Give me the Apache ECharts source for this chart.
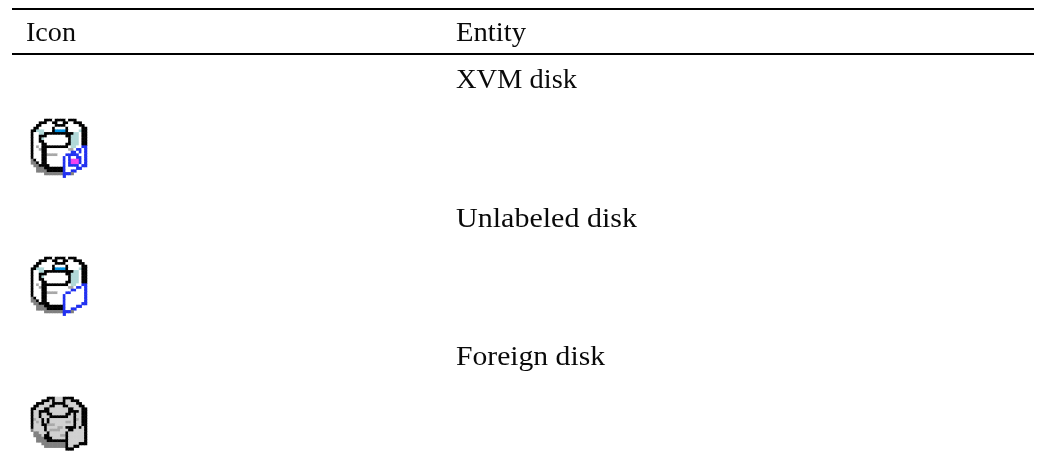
<!DOCTYPE html>
<html>
<head>
<meta charset="utf-8">
<style>
  html, body { margin: 0; padding: 0; background: #fff; }
  #chart { width: 1046px; height: 452px; }
</style>
<script src="https://cdn.jsdelivr.net/npm/echarts@6/dist/echarts.min.js"></script>
</head>
<body>
<div id="chart"></div>
<script>
// table text
const headers = ['Icon', 'Entity'];
const entities = ['XVM disk', 'Unlabeled disk', 'Foreign disk'];

// icon bitmaps, one char per cell, '.' is empty
const diskRows = [
  '.....KKKWKKKKWKKK....',
  '...KKKWWKKWWKKWWKKK..',
  '..KKWWWWWKKKKWWWWWKK.',
  '.KKWWWWWKWWWWKWWWWWKK',
  'KKCCCWWWKBBBBKWWWWCKK',
  'KWWCCKKKKKKKKKKKCCWKK',
  'KWWKKKWWWWWWWKKCCCWKK',
  'KWWKCWWWWWWWWWKCCCWKK',
  'KWWKKWWWWWWWWWKCCCWKK',
  'KWWWKKWWWWWWWKKCCCWKK',
  'KWHWKKKKKKKKKKWCCWWKK',
  'KWWHKKWWWWWWWWHHWWWKK',
  'KWWWKKWWWWWWWWWWWWWKK',
  'KWWWKKHHHHWWWHHWWWWKK',
  'KWWWKKWWWWWWWWWWWWWKK',
  'GKWWKKWWWWWWHHHWWWK..',
  'GGKWKKWWWWWWWWWWWKK..',
  '.GGKKKKWWWWWWWWKK....',
  '..GGGKKKKKKKKKKK.....',
  '..GGGGKKKKKKKKK......',
  '.....GGGGGGGGGGG.....',
  '.....................'
];
const xvmBadge = [
  '...................UU',
  '.................UUWU',
  '...............UUWUWU',
  '.............UUUUUWWU',
  '............UWUWWUUWU',
  '............UWUMMMUWU',
  '............UWUMMMUWU',
  '............UWUUUUWUU',
  '............UWWWWUU..',
  '............UWWUU....',
  '............UUU......',
  '............U........'
];
const unlabeledBadge = [
  '...................UU',
  '.................UUWU',
  '...............UUWWWU',
  '.............UUWWWWWU',
  '............UWWWWWWWU',
  '............UWWWWWWWU',
  '............UWWWWWWWU',
  '............UWWWWWWUU',
  '............UWWWWUU..',
  '............UWWUU....',
  '............UUU......',
  '............U........'
];
const foreignRows = [
  '......KKKLLLKKKK.....',
  '....KKKLKLLLKLLKKK...',
  '..KKKLLLKKKKKLLLLKK..',
  '.KKLLLLKKLLLKKLLLLKK.',
  'KKLLLKKLLLLLLLKKLLLKK',
  'KLLKKKKLLLLLLLKKKKLKK',
  'KLLKLLKKLLLLLKKLKLLKK',
  'KLLKLLLKKKKKKKLLKLLKK',
  'KHLLKLKLLLLLLLLLKHLKK',
  'KLHLKLKLLLLLLHHLKLLKK',
  'KLLLKKHHHLLLLLLLKLLKK',
  'KLLLLKLLLLHHLKKKKLKLK',
  'GLLLLKLHHHHLLLKKLLLLK',
  '.GGLLLKLLLLLLKLLLLLLK',
  '.GGGLKKLLLLHHKLLLLLLK',
  '..GGGKKKLLLLLKLLLLLLK',
  '..GGGGKKKKKKKKLLLLLLK',
  '....GGGGGGGGGKLLLLKKK',
  '.....GGGGGGGGKLLKK...',
  '.............KKK.....'
];

const palette = {
  K: '#000000', W: '#ffffff', C: '#b0d8d8', B: '#0090e0', G: '#808080',
  H: '#a8a8a8', U: '#2030f0', M: '#f040f0', L: '#d0d0d0'
};

const CELL = 8 / 3;
const COLS = 21;

// puts badge rows over the disk, starting from row 10
function withBadge(base, badge) {
  return base.map(function (row, r) {
    const over = badge[r - 10];
    if (!over) return row;
    let out = '';
    for (let c = 0; c < COLS; c++) {
      out += over[c] !== '.' ? over[c] : (row[c] || '.');
    }
    return out;
  });
}

const icons = [
  { rows: withBadge(diskRows, xvmBadge), left: 31, top: 119 },
  { rows: withBadge(diskRows, unlabeledBadge), left: 31, top: 257 },
  { rows: foreignRows, left: 31, top: 397 }
];

const indexList = n => Array.from({ length: n }, (_, i) => i);

const grid = [], xAxis = [], yAxis = [], series = [];
icons.forEach(function (icon, i) {
  grid.push({
    left: icon.left, top: icon.top,
    width: COLS * CELL, height: icon.rows.length * CELL
  });
  xAxis.push({ type: 'category', gridIndex: i, show: false, data: indexList(COLS) });
  yAxis.push({ type: 'category', gridIndex: i, show: false, inverse: true, data: indexList(icon.rows.length) });
  const cells = [];
  icon.rows.forEach(function (row, r) {
    for (let c = 0; c < row.length; c++) {
      if (row[c] === '.') continue;
      cells.push({ value: [c, r, 1], itemStyle: { color: palette[row[c]] } });
    }
  });
  series.push({
    type: 'heatmap', xAxisIndex: i, yAxisIndex: i,
    data: cells, silent: true, animation: false
  });
});

// the reference font runs wider than Liberation Serif, so stretch each label
const FONT = '27px "Liberation Serif"';
const ruler = document.createElement('canvas').getContext('2d');
ruler.font = FONT;
function label(text, x, y, width) {
  return {
    type: 'text', x: x, y: y, silent: true,
    scaleX: width / ruler.measureText(text).width,
    style: { text: text, font: FONT, fill: '#0a0a0a', verticalAlign: 'top' }
  };
}
function rule(y) {
  return { type: 'rect', silent: true, shape: { x: 12, y: y, width: 1022, height: 2 }, style: { fill: '#000' } };
}

const chart = echarts.init(document.getElementById('chart'));
chart.setOption({
  animation: false,
  backgroundColor: '#ffffff',
  grid: grid,
  xAxis: xAxis,
  yAxis: yAxis,
  series: series,
  graphic: [
    rule(8),
    rule(53),
    label(headers[0], 26, 20, 50),
    label(headers[1], 456, 20, 70),
    label(entities[0], 456, 67, 121),
    label(entities[1], 456, 206, 181),
    label(entities[2], 456, 344, 149)
  ]
});
</script>
</body>
</html>
